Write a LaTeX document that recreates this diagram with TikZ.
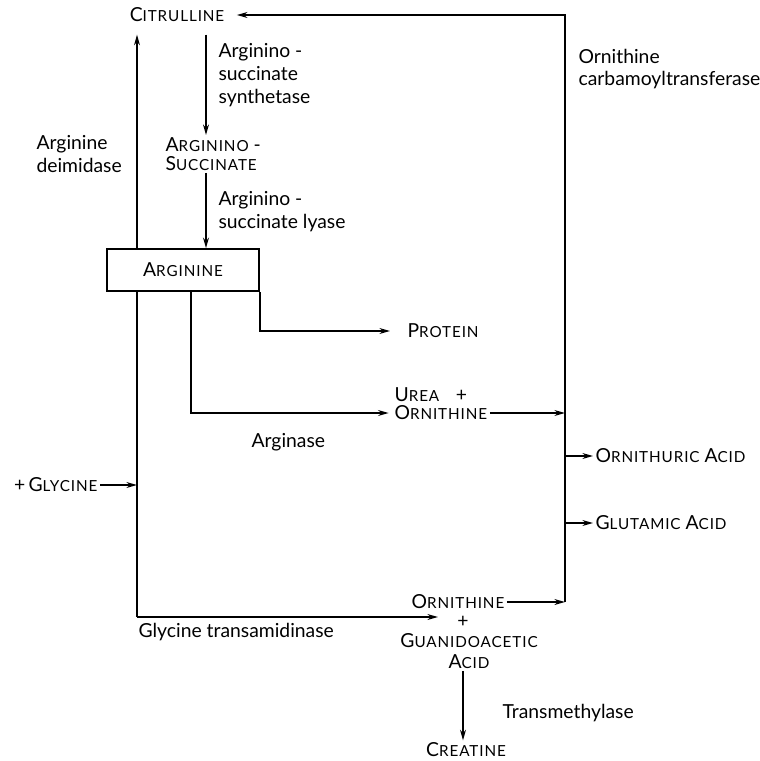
\documentclass[tikz,border=0pt]{standalone}
\usepackage{fontspec}
\setmainfont{Lato}
\usetikzlibrary{arrows.meta,positioning}
\newcommand\smcap[2]{#1{\fontsize{13}{15}\selectfont\addfontfeature{LetterSpace=6}#2}}

\begin{document}
\begin{tikzpicture}[x=0.03cm, y=-0.03cm, >={Stealth[length=9pt,width=5pt]},
  every node/.style={font=\fontsize{16.5}{19.5}\selectfont, inner sep=2pt},
  link/.style={line width=1.4pt},
  flow/.style={link, ->},
  enz/.style={anchor=west, align=left},
  box/.style={draw, line width=1.4pt, minimum width=4.56cm, minimum height=1.26cm}]
  \useasboundingbox (0,0) rectangle (759,761);
  % Compounds
  \node (cit) at (177,15) {\smcap{C}{ITRULLINE}};
  \node[anchor=west, align=left, font=\fontsize{16.5}{16}\selectfont] (asuc) at (163,154)
    {\smcap{A}{RGININO} -\\\smcap{S}{UCCINATE}};
  \node[box] (arg) at (183,270) {\smcap{A}{RGININE}\hspace{0.9cm}};
  \node[anchor=west] (prot) at (405,331) {\smcap{P}{ROTEIN}};
  \node[anchor=west] (urea) at (392,395) {\smcap{U}{REA}\hspace{0.5cm}+};
  \node[anchor=west] (orn1) at (392,413) {\smcap{O}{RNITHINE}};
  \node[anchor=west] (ornu) at (593,456) {\smcap{O}{RNITHURIC} \smcap{A}{CID}};
  \node[anchor=west] (glu) at (593,523) {\smcap{G}{LUTAMIC} \smcap{A}{CID}};
  \node[anchor=east] (gly) at (100,485) {+\,\smcap{G}{LYCINE}};
  \node (orn2) at (458,602) {\smcap{O}{RNITHINE}};
  \node (plus) at (463,622) {+};
  \node[align=center, font=\fontsize{16.5}{17.5}\selectfont] (gaa) at (469,651)
    {\smcap{G}{UANIDOACETIC}\\\smcap{A}{CID}};
  \node (crea) at (466,750) {\smcap{C}{REATINE}};
  % Enzymes
  \node[enz] (syn) at (216,75) {Arginino -\\succinate\\synthetase};
  \node[enz] (lya) at (216,212) {Arginino -\\succinate lyase};
  \node[enz] (deim) at (34,154) {Arginine\\deimidase};
  \node[enz] (oct) at (576,69) {Ornithine\\carbamoyltransferase};
  \node[enz] (ase) at (249,442) {Arginase};
  \node[enz] (gta) at (136,632) {Glycine transamidinase};
  \node[enz] (tme) at (500,713) {Transmethylase};
  % Corners of the outer loop
  \coordinate (ne) at (565,15);
  \coordinate (se) at (565,602);
  \coordinate (sw) at (137,617);
  \coordinate (axis) at (206,0);
  \coordinate (split) at (191,0);
  \coordinate (gtip) at (438,617);
  % Urea cycle
  \draw[flow, shorten <=0.3cm] (cit.south -| axis) -- (asuc.north -| axis);
  \draw[flow] (asuc.south -| axis) -- (arg.north -| axis);
  \draw[flow] (orn2.east) -- (orn2.east -| se);
  \draw[flow, shorten >=0.3cm] (se) -- (ne) -- (cit.east);
  % Arginine deimidase / glycine transamidinase
  \draw[link] (sw) -- (sw |- arg.south);
  \draw[flow, shorten >=0.3cm] (sw |- arg.north) -- (sw |- cit.south);
  \draw[flow] (gly.east) -- (gly.east -| sw);
  \draw[flow] (sw) -- (gtip);
  % Arginine branches
  \draw[flow, shorten >=0.1cm] (arg.south -| split) |- (orn1.west);
  \draw[flow, shorten >=0.45cm] (arg.south east) |- (prot.west);
  \draw[flow] (orn1.east) -- (orn1.east -| se);
  % Ornithine products
  \draw[flow] (ornu.west -| se) -- (ornu.west);
  \draw[flow] (glu.west -| se) -- (glu.west);
  \draw[flow] (gaa.south -| plus) -- (crea.north -| plus);
\end{tikzpicture}
\end{document}
